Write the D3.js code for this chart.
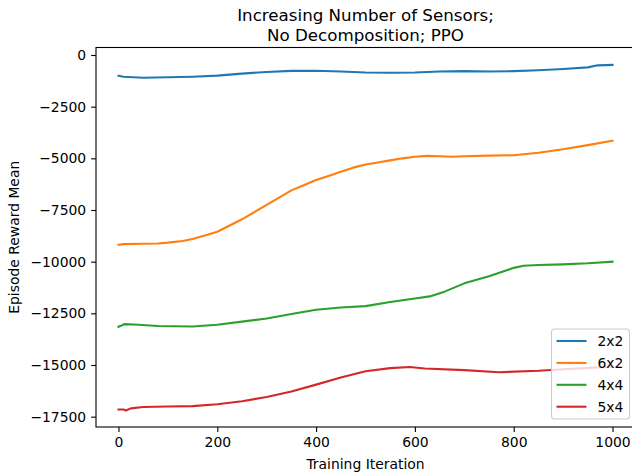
<!DOCTYPE html>
<html>
<head>
<meta charset="utf-8">
<script src="https://cdn.jsdelivr.net/npm/d3@7"></script>
<style>
  body { margin: 0; background: #fff; }
  svg { display: block; font-family: "DejaVu Sans", sans-serif; }
</style>
</head>
<body>
<svg id="chart" width="632" height="475"></svg>
<script>
// values
var seriesNames = ["2x2", "6x2", "4x4", "5x4"];
var seriesColors = ["#1f77b4", "#ff7f0e", "#2ca02c", "#d62728"];

var iter2x2 = [0, 10, 50, 100, 150, 200, 250, 300, 350, 400, 450, 500, 550, 600, 650, 700, 750, 800, 850, 900, 950, 970, 1000];
var reward2x2 = [-1000, -1050, -1100, -1080, -1050, -1000, -900, -820, -770, -760, -800, -850, -860, -850, -800, -780, -800, -780, -740, -680, -600, -500, -480];

var iter6x2 = [0, 10, 50, 80, 100, 130, 150, 180, 200, 225, 250, 275, 300, 325, 350, 375, 400, 425, 450, 475, 500, 525, 550, 575, 600, 625, 650, 675, 700, 750, 800, 850, 900, 950, 1000];
var reward6x2 = [-9180, -9150, -9130, -9120, -9080, -9000, -8900, -8700, -8550, -8250, -7950, -7600, -7250, -6900, -6550, -6300, -6050, -5850, -5650, -5450, -5300, -5200, -5100, -5000, -4920, -4880, -4900, -4920, -4900, -4870, -4850, -4730, -4560, -4360, -4150];

var iter4x4 = [0, 5, 12, 40, 80, 150, 200, 250, 300, 350, 400, 450, 500, 550, 600, 630, 660, 700, 750, 800, 820, 850, 900, 950, 1000];
var reward4x4 = [-13150, -13100, -13020, -13050, -13110, -13140, -13050, -12900, -12750, -12530, -12330, -12220, -12150, -11950, -11780, -11680, -11450, -11050, -10700, -10300, -10200, -10160, -10130, -10080, -10000];

var iter5x4 = [0, 10, 15, 25, 50, 100, 150, 200, 250, 300, 350, 400, 450, 500, 550, 590, 620, 700, 770, 850, 920, 1000];
var reward5x4 = [-17150, -17150, -17200, -17100, -17030, -17010, -16990, -16900, -16750, -16550, -16280, -15950, -15600, -15300, -15150, -15100, -15170, -15250, -15350, -15280, -15180, -15080];

var xTicks = [0, 200, 400, 600, 800, 1000];
var yTicks = [0, -2500, -5000, -7500, -10000, -12500, -15000, -17500];

var allIters = [iter2x2, iter6x2, iter4x4, iter5x4];
var allRewards = [reward2x2, reward6x2, reward4x4, reward5x4];

var svg = d3.select("#chart");
var margin = {top: 47.5, right: -3, bottom: 48, left: 96};
var width = 632 - margin.left - margin.right;
var height = 475 - margin.top - margin.bottom;

var x = d3.scaleLinear().domain([-45.5, 1045.5]).range([0, width]);
var y = d3.scaleLinear().domain([-18000, 363]).range([height, 0]);

var g = svg.append("g").attr("transform", "translate(" + margin.left + "," + margin.top + ")");

var line = d3.line()
    .x(function(d) { return x(d[0]); })
    .y(function(d) { return y(d[1]); });

for (var s = 0; s < seriesNames.length; s++) {
  var pts = d3.zip(allIters[s], allRewards[s]);
  g.append("path")
      .datum(pts)
      .attr("fill", "none")
      .attr("stroke", seriesColors[s])
      .attr("stroke-width", 2.1)
      .attr("stroke-linejoin", "round")
      .attr("stroke-linecap", "square")
      .attr("d", line);
}

var fmt = d3.format("d");

var xAxis = g.append("g")
    .attr("transform", "translate(0," + height + ")")
    .call(d3.axisBottom(x).tickValues(xTicks).tickFormat(fmt).tickSizeOuter(0).tickSize(4.9).tickPadding(4.9));

var yAxis = g.append("g")
    .call(d3.axisLeft(y).tickValues(yTicks).tickFormat(fmt).tickSizeOuter(0).tickSize(4.9).tickPadding(4.9));

[xAxis, yAxis].forEach(function(a) {
  a.selectAll("text").attr("font-size", 13.9).attr("fill", "#000").attr("font-family", "DejaVu Sans");
  a.selectAll(".tick line").attr("stroke", "#000").attr("stroke-width", 1.1);
  a.select(".domain").remove();
});
xAxis.selectAll("text").attr("dy", "0.71em");

// frame
g.append("rect")
    .attr("x", 0)
    .attr("y", 0)
    .attr("width", width)
    .attr("height", height)
    .attr("fill", "none")
    .attr("stroke", "#000")
    .attr("stroke-width", 1.1);

// title
svg.append("text")
    .attr("x", margin.left + width / 2)
    .attr("y", 21)
    .attr("text-anchor", "middle")
    .attr("font-size", 16.7)
    .text("Increasing Number of Sensors;");
svg.append("text")
    .attr("x", margin.left + width / 2)
    .attr("y", 40.5)
    .attr("text-anchor", "middle")
    .attr("font-size", 16.7)
    .text("No Decomposition; PPO");

svg.append("text")
    .attr("x", margin.left + width / 2)
    .attr("y", 469)
    .attr("text-anchor", "middle")
    .attr("font-size", 13.9)
    .text("Training Iteration");

svg.append("text")
    .attr("transform", "translate(19," + (margin.top + height / 2) + ") rotate(-90)")
    .attr("text-anchor", "middle")
    .attr("font-size", 13.9)
    .text("Episode Reward Mean");

// legend
var lg = svg.append("g").attr("transform", "translate(551.5,329)");
lg.append("rect")
    .attr("width", 78)
    .attr("height", 90)
    .attr("rx", 3)
    .attr("fill", "#fff")
    .attr("fill-opacity", 0.8)
    .attr("stroke", "#ccc")
    .attr("stroke-width", 1.1);

seriesNames.forEach(function(name, i) {
  var ly = 12 + i * 21.9;
  lg.append("line")
      .attr("x1", 5)
      .attr("x2", 35)
      .attr("y1", ly)
      .attr("y2", ly)
      .attr("stroke", seriesColors[i])
      .attr("stroke-width", 2.1);
  lg.append("text")
      .attr("x", 46)
      .attr("y", ly + 5)
      .attr("font-size", 13.9)
      .text(name);
});
</script>
</body>
</html>
